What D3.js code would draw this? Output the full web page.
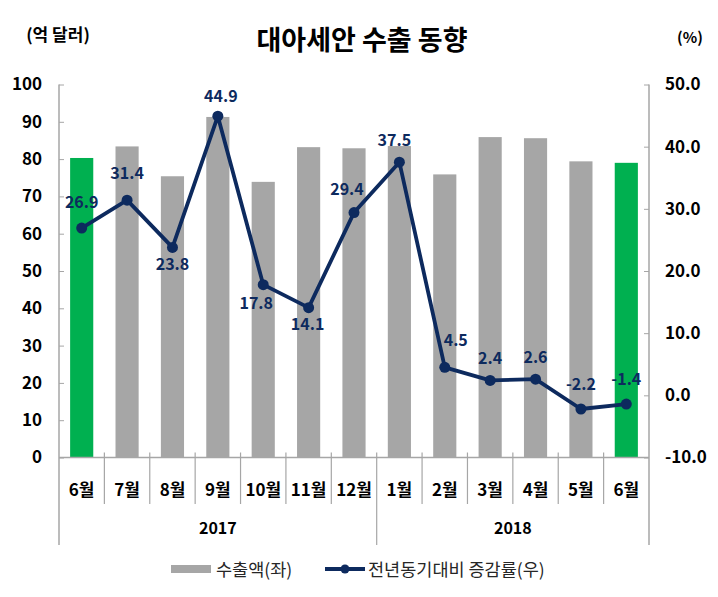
<!DOCTYPE html>
<html><head><meta charset="utf-8">
<script src="https://cdn.jsdelivr.net/npm/d3@7/dist/d3.min.js"></script>
<style>
body{margin:0;background:#fff;}
svg{display:block;font-family:"Noto Sans CJK KR","Noto Sans",sans-serif;}
</style></head>
<body>
<svg id="chart" width="718" height="597"></svg>
<script>
// ---- data ----
const months = ["6월","7월","8월","9월","10월","11월","12월","1월","2월","3월","4월","5월","6월"];
const years = ["2017","2018"];
const yearSpans = [[0,7],[7,13]];
const exports = [80.3, 83.4, 75.4, 91.3, 73.9, 83.2, 82.9, 83.5, 75.9, 85.9, 85.6, 79.4, 79.0];
const growth = [26.9, 31.4, 23.8, 44.9, 17.8, 14.1, 29.4, 37.5, 4.5, 2.4, 2.6, -2.2, -1.4];
const highlight = [true,false,false,false,false,false,false,false,false,false,false,false,true];
const leftTicks = [0,10,20,30,40,50,60,70,80,90,100];
const rightTicks = [-10,0,10,20,30,40,50];
// label offsets (style)
const labelOffsets = [[0,-26],[0,-27],[0,17],[3,-20],[-7,19],[-1,17],[-7,-23],[-5,-22],[11,-27],[0,-22],[0,-22],[0,-25],[0,-25]];

const fmt1 = d => d3.format(".1f")(d).replace("\u2212","-");
const svg = d3.select("#chart");
const L = 59, R = 649, T = 84.5, B = 457.5;
const x = d3.scaleBand().domain(d3.range(months.length)).range([L,R]).paddingInner(0.49).paddingOuter(0.245);
const xc = i => L + (R-L)/months.length*(i+0.5);
const yL = d3.scaleLinear().domain([0,100]).range([B,T]);
const yR = d3.scaleLinear().domain([-10,50]).range([B,T]);
const axisColor = "#a6a6a6";

// title
svg.append("text").attr("x",362).attr("y",50).attr("text-anchor","middle")
  .attr("font-size",27).attr("font-weight","bold").attr("fill","#000").text("대아세안 수출 동향");
svg.append("text").attr("x",58).attr("y",41).attr("text-anchor","middle")
  .attr("font-size",17).attr("font-weight","bold").text("(억 달러)");
svg.append("text").attr("x",690).attr("y",43).attr("text-anchor","middle")
  .attr("font-size",15).attr("font-weight","bold").text("(%)");

// bars
svg.append("g").selectAll("rect").data(exports).join("rect")
  .attr("x",(d,i)=>x(i)).attr("width",x.bandwidth())
  .attr("y",d=>yL(d)).attr("height",d=>B-yL(d))
  .attr("fill",(d,i)=>highlight[i]?"#00b050":"#a6a6a6");

// left axis
const gl = svg.append("g").attr("transform",`translate(${L},0)`)
  .call(d3.axisLeft(yL).tickValues(leftTicks).tickSize(-5).tickPadding(17).tickFormat(d3.format("d")));
gl.select(".domain").remove();
gl.selectAll(".tick line").attr("stroke",axisColor);
gl.selectAll(".tick text").attr("font-size",17).attr("font-weight","bold").attr("fill","#000")
  .attr("font-family","'Noto Sans CJK KR',sans-serif");
svg.append("line").attr("x1",L).attr("x2",L).attr("y1",T).attr("y2",545).attr("stroke",axisColor).attr("stroke-width",1.5);

// right axis
const gr = svg.append("g").attr("transform",`translate(${R},0)`)
  .call(d3.axisRight(yR).tickValues(rightTicks).tickSize(-5).tickPadding(16).tickFormat(fmt1));
gr.select(".domain").remove();
gr.selectAll(".tick line").attr("stroke",axisColor);
gr.selectAll(".tick text").attr("font-size",17).attr("font-weight","bold").attr("fill","#000")
  .attr("font-family","'Noto Sans CJK KR',sans-serif");
svg.append("line").attr("x1",R).attr("x2",R).attr("y1",T).attr("y2",545).attr("stroke",axisColor).attr("stroke-width",1.5);

// x axis
svg.append("line").attr("x1",L).attr("x2",R).attr("y1",B).attr("y2",B).attr("stroke",axisColor).attr("stroke-width",1.5);
const step = (R-L)/months.length;
d3.range(1,months.length).forEach(i=>{
  const isYear = yearSpans.some(s=>s[0]===i);
  svg.append("line").attr("x1",L+step*i).attr("x2",L+step*i)
    .attr("y1",B-5).attr("y2",isYear?545:504).attr("stroke",axisColor).attr("stroke-width",1.2);
});
svg.append("g").selectAll("text").data(months).join("text")
  .attr("x",(d,i)=>xc(i)).attr("y",496).attr("text-anchor","middle")
  .attr("font-size",17).attr("font-weight","bold").attr("fill","#000").text(d=>d);
svg.append("g").selectAll("text").data(years).join("text")
  .attr("x",(d,i)=>(L+step*yearSpans[i][0]+L+step*yearSpans[i][1])/2).attr("y",534).attr("text-anchor","middle")
  .attr("font-size",16).attr("font-weight","bold").attr("fill","#000").text(d=>d);

// line
const lineColor = "#0d2a5e";
svg.append("path").datum(growth)
  .attr("d",d3.line().x((d,i)=>xc(i)).y(d=>yR(d)))
  .attr("fill","none").attr("stroke",lineColor).attr("stroke-width",3.8).attr("stroke-linejoin","round");
svg.append("g").selectAll("circle").data(growth).join("circle")
  .attr("cx",(d,i)=>xc(i)).attr("cy",d=>yR(d)).attr("r",5.5).attr("fill",lineColor);
svg.append("g").selectAll("text").data(growth).join("text")
  .attr("x",(d,i)=>xc(i)+labelOffsets[i][0]).attr("y",(d,i)=>yR(d)+labelOffsets[i][1])
  .attr("dy","0.35em").attr("text-anchor","middle")
  .attr("font-size",16).attr("font-weight","bold").attr("fill","#0d2a5e")
  .text(d=>fmt1(d));

// legend
const lg = svg.append("g");
lg.append("rect").attr("x",171).attr("y",565).attr("width",40).attr("height",8).attr("fill","#a6a6a6");
lg.append("text").attr("x",216).attr("y",575.5).attr("font-size",17.5).attr("fill","#262626").text("수출액(좌)");
lg.append("line").attr("x1",325).attr("x2",365).attr("y1",569).attr("y2",569).attr("stroke",lineColor).attr("stroke-width",3.8);
lg.append("circle").attr("cx",345).attr("cy",569).attr("r",4.5).attr("fill",lineColor);
lg.append("text").attr("x",368).attr("y",575.5).attr("font-size",17.5).attr("fill","#262626").text("전년동기대비 증감률(우)");
</script>
</body></html>
